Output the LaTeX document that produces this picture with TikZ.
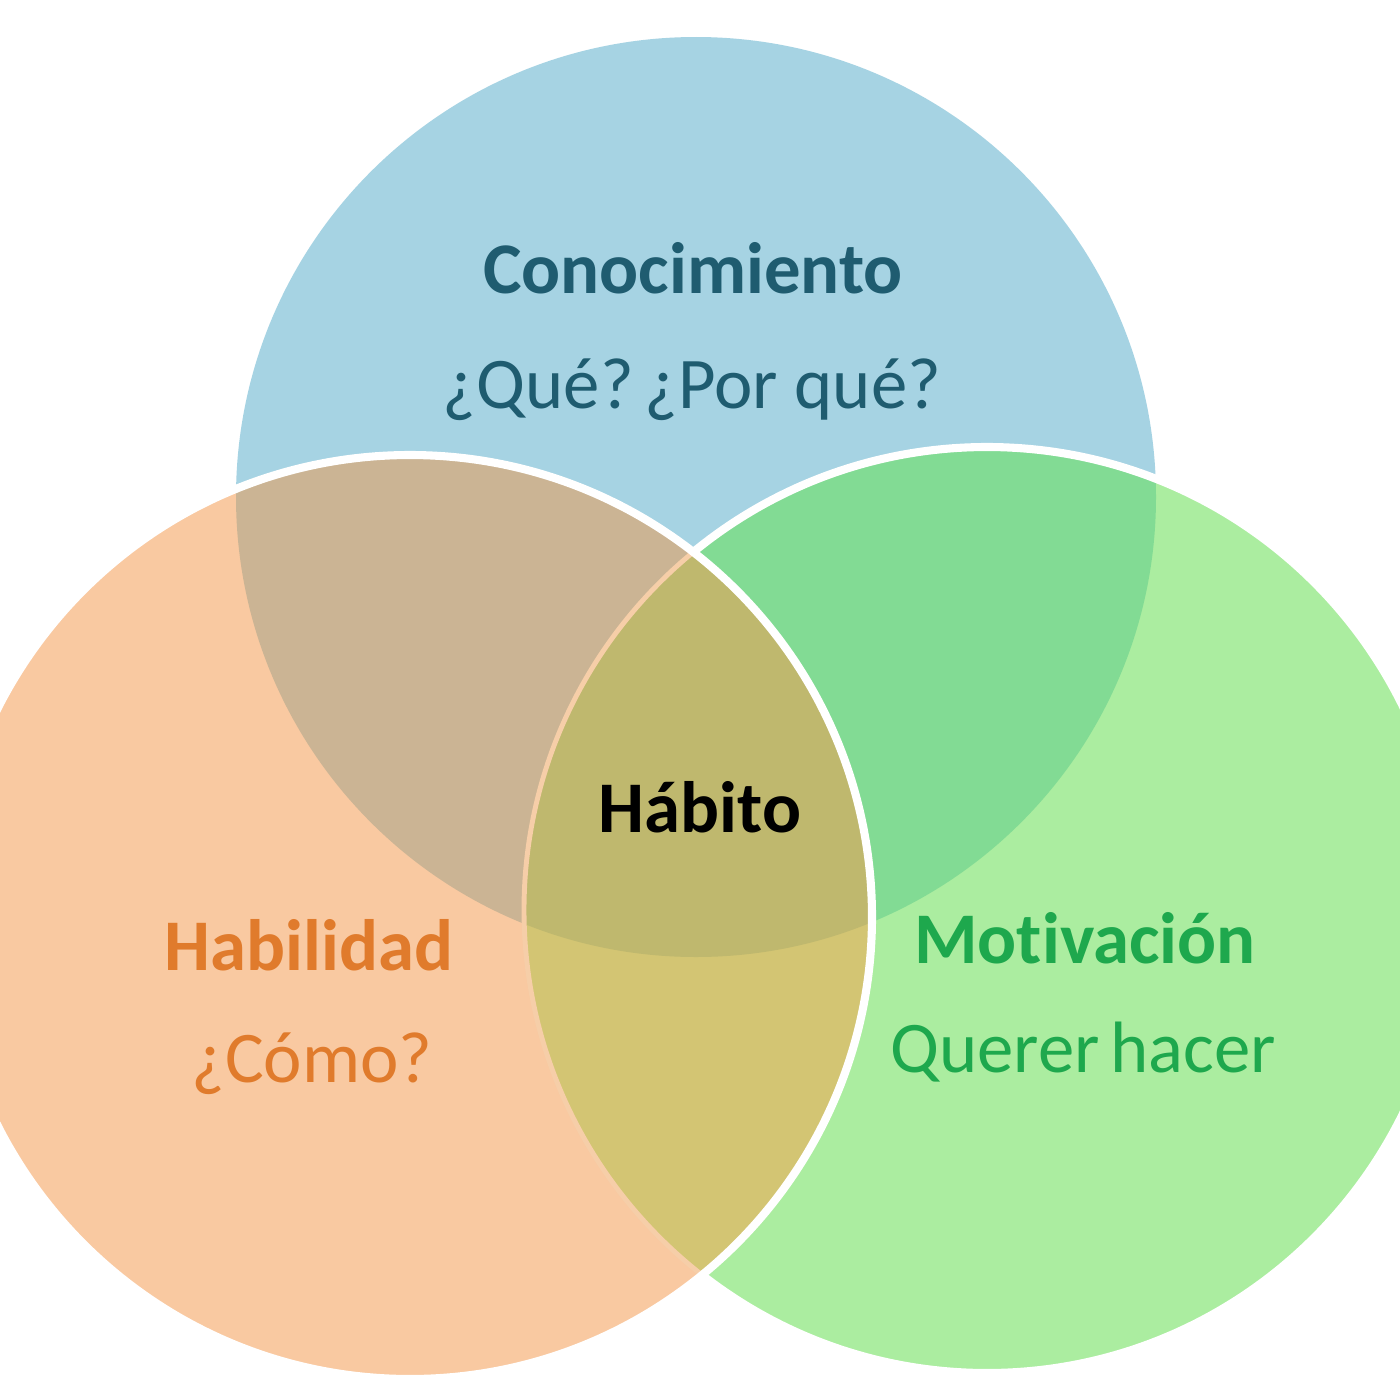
\documentclass[tikz,border=0pt]{standalone}
\usepackage{fontspec}
\setmainfont{Carlito}[Ligatures={NoCommon}]
\definecolor{cblue}{HTML}{A6D3E3}
\definecolor{corange}{HTML}{F9C9A1}
\definecolor{cgreen}{HTML}{ABEDA0}
\definecolor{cbo}{HTML}{CBB494}
\definecolor{cbg}{HTML}{82DB94}
\definecolor{cog}{HTML}{D3C573}
\definecolor{call}{HTML}{BFB86E}
\definecolor{lineor}{HTML}{F6CEA8}
\definecolor{tblue}{HTML}{1F5C70}
\definecolor{torange}{HTML}{E07B2C}
\definecolor{tgreen}{HTML}{1EA84D}
\tikzset{
  lbl/.style={anchor=base, inner sep=0pt, font=\fontsize{20.7}{24}\selectfont},
  ttl/.style={lbl, font=\fontsize{20.7}{24}\selectfont\bfseries},
  rim/.style={draw=white, line width=2.3pt}
}
\begin{document}
\begin{tikzpicture}
\useasboundingbox (0,0) rectangle (14,-14);
\clip (0,0) rectangle (14,-14);
\fill[white] (0,0) rectangle (14,-14);
\def\blueC{(6.96,-4.97) circle (4.60)}
\def\orC{(4.10,-9.17) circle (4.62)}
\def\grC{(9.87,-9.10) circle (4.63)}
% blue
\fill[cblue] \blueC;
% green
\fill[cgreen] \grC;
\begin{scope}
  \clip \blueC;
  \fill[cbg] \grC;
\end{scope}
\draw[rim] \grC;
% orange
\fill[corange] \orC;
\begin{scope}
  \clip \orC;
  \fill[cbo] \blueC;
  \fill[cog] \grC;
  \clip \grC;
  \fill[call] \blueC;
\end{scope}
\begin{scope}
  \clip \orC;
  \draw[lineor, line width=1.4pt] \grC;
\end{scope}
\draw[rim] \orC;
% texts
\node[ttl, text=tblue] (kn) at (6.93,-2.93) {Conocimiento};
\node[lbl, text=tblue] (knq) at (6.92,-4.08) {¿Qué?\hspace{0.15em}¿Por qué?};
\node[ttl, text=black] (hab) at (7.00,-8.32) {Hábito};
\node[ttl, text=torange] (sk) at (3.09,-9.70) {Habilidad};
\node[lbl, text=torange] (skq) at (3.12,-10.82) {¿Cómo?};
\node[ttl, text=tgreen] (mo) at (10.85,-9.63) {Motivación};
\node[lbl, text=tgreen] (moq) at (10.83,-10.72) {Querer\hspace{0.15em}hacer};
\end{tikzpicture}
\end{document}
